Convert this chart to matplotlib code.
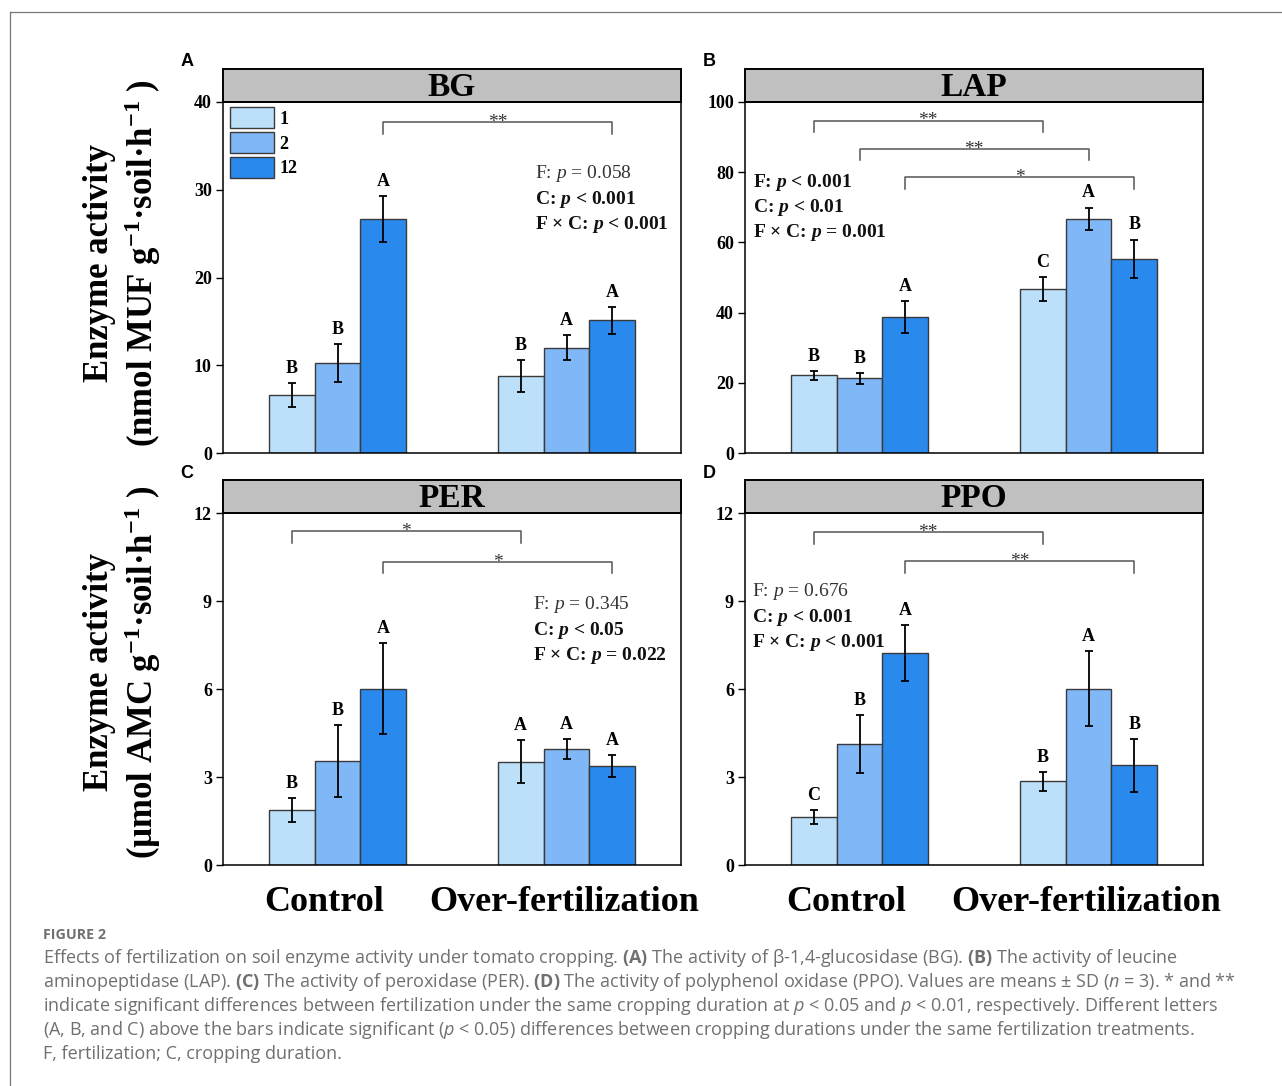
import matplotlib
matplotlib.use("Agg")
import matplotlib.pyplot as plt
from matplotlib.patches import Rectangle
from matplotlib.lines import Line2D

plt.rcParams["font.family"] = "Liberation Serif"
plt.rcParams["mathtext.fontset"] = "custom"
plt.rcParams["mathtext.rm"] = "Liberation Serif"
plt.rcParams["mathtext.it"] = "Liberation Serif:italic"
plt.rcParams["mathtext.bf"] = "Liberation Serif:bold"
plt.rcParams["mathtext.cal"] = "Liberation Serif:italic:bold"
plt.rcParams["mathtext.sf"] = "Open Sans:bold"
plt.rcParams["mathtext.tt"] = "Open Sans:italic"

W, H = 1282, 1086

groups = ["Control", "Over-fertilization"]
durations = ["1", "2", "12"]
colors = ["#BDE0FA", "#80B7F7", "#2A89ED"]

# BG
bg_mean = [[6.6, 10.25, 26.7], [8.8, 12.0, 15.1]]
bg_sd = [[1.4, 2.2, 2.6], [1.8, 1.45, 1.5]]
bg_letters = [["B", "B", "A"], ["B", "A", "A"]]
bg_brackets = [(2, 37.7, "**")]
bg_stats = [("F: $p$ = 0.058", "normal"), ("C: $\\mathcal{p}$ < 0.001", "bold"),
            ("F × C: $\\mathcal{p}$ < 0.001", "bold")]

# LAP
lap_mean = [[22.1, 21.3, 38.7], [46.7, 66.7, 55.3]]
lap_sd = [[1.3, 1.5, 4.6], [3.4, 3.2, 5.5]]
lap_letters = [["B", "B", "A"], ["C", "A", "B"]]
lap_brackets = [(0, 94.7, "**"), (1, 86.7, "**"), (2, 78.5, "*")]
lap_stats = [("F: $\\mathcal{p}$ < 0.001", "bold"), ("C: $\\mathcal{p}$ < 0.01", "bold"),
             ("F × C: $\\mathcal{p}$ = 0.001", "bold")]

# PER
per_mean = [[1.87, 3.55, 6.01], [3.52, 3.95, 3.37]]
per_sd = [[0.42, 1.22, 1.55], [0.74, 0.34, 0.37]]
per_letters = [["B", "B", "A"], ["A", "A", "A"]]
per_brackets = [(0, 11.39, "*"), (2, 10.34, "*")]
per_stats = [("F: $p$ = 0.345", "normal"), ("C: $\\mathcal{p}$ < 0.05", "bold"),
             ("F × C: $\\mathcal{p}$ = 0.022", "bold")]

# PPO
ppo_mean = [[1.63, 4.12, 7.23], [2.85, 6.01, 3.40]]
ppo_sd = [[0.24, 0.99, 0.96], [0.32, 1.27, 0.90]]
ppo_letters = [["C", "B", "A"], ["B", "A", "B"]]
ppo_brackets = [(0, 11.35, "**"), (2, 10.36, "**")]
ppo_stats = [("F: $p$ = 0.676", "normal"), ("C: $\\mathcal{p}$ < 0.001", "bold"),
             ("F × C: $\\mathcal{p}$ < 0.001", "bold")]

panels = [
    ("A", "BG", bg_mean, bg_sd, bg_letters, bg_brackets, bg_stats, 40, [0, 10, 20, 30, 40],
     (223, 102, 681, 453), (0.681, 0.795)),
    ("B", "LAP", lap_mean, lap_sd, lap_letters, lap_brackets, lap_stats, 100, [0, 20, 40, 60, 80, 100],
     (745, 102, 1203, 453), (0.017, 0.772)),
    ("C", "PER", per_mean, per_sd, per_letters, per_brackets, per_stats, 12, [0, 3, 6, 9, 12],
     (223, 513, 681, 865), (0.677, 0.739)),
    ("D", "PPO", ppo_mean, ppo_sd, ppo_letters, ppo_brackets, ppo_stats, 12, [0, 3, 6, 9, 12],
     (745, 513, 1203, 865), (0.015, 0.776)),
]

fig = plt.figure(figsize=(W / 100, H / 100), dpi=100)


def fx(px):
    return px / W


def fy(py):
    return 1 - py / H


for tag, name, mean, sd, letters, brackets, stats, ymax, yticks, box, spos in panels:
    l, t, r, b = box
    ax = fig.add_axes([fx(l), fy(b), fx(r) - fx(l), fy(t) - fy(b)])
    for gi in range(2):
        for di in range(3):
            x = gi * 5 + 1.5 + di
            ax.bar(x, mean[gi][di], width=1.0, color=colors[di], edgecolor="#3a3a3a",
                   linewidth=1.0, label=durations[di] if gi == 0 else None, zorder=2)
            ax.errorbar(x, mean[gi][di], yerr=sd[gi][di], fmt="none", ecolor="black",
                        elinewidth=1.3, capsize=3, capthick=1.3, zorder=3)
            ax.annotate(letters[gi][di], (x, mean[gi][di] + sd[gi][di]), xytext=(0, 4.5),
                        textcoords="offset points", ha="center", va="bottom",
                        fontsize=13, fontweight="bold")
    drop = 0.033 * ymax
    for di, yl, lab in brackets:
        x1, x2 = 1.5 + di, 6.5 + di
        ax.plot([x1, x1, x2, x2], [yl - drop, yl, yl, yl - drop], color="#555555", lw=1.1,
                zorder=1)
        ax.annotate(lab, ((x1 + x2) / 2, yl), xytext=(0, -3.5), textcoords="offset points",
                    ha="center", va="baseline", fontsize=14, color="#333333")
    for k, (s, w) in enumerate(stats):
        ax.text(spos[0], spos[1] - k * 0.0715, s, transform=ax.transAxes, fontsize=14,
                fontweight=w, ha="left", va="center", color="#111111" if w == "bold" else "#333333")

    ax.set_xlim(0, 10)
    ax.set_ylim(0, ymax)
    ax.set_yticks(yticks)
    ax.set_yticklabels([str(v) for v in yticks], fontsize=13, fontweight="bold")
    ax.tick_params(axis="y", direction="out", length=5, width=1.0, pad=3)
    if tag in ("C", "D"):
        ax.set_xticks([2.2, 7.45])
        ax.set_xticklabels(groups, fontsize=26, fontweight="bold")
        ax.tick_params(axis="x", length=0, pad=15)
    else:
        ax.set_xticks([])
    for sp in ax.spines.values():
        sp.set_linewidth(1.1)

    hb = 33 / (b - t)
    ax.add_patch(Rectangle((0, 1), 1, hb, transform=ax.transAxes, clip_on=False,
                           facecolor="#C0C0C0", edgecolor="black", linewidth=1.4))
    ax.text(0.5, 1 + hb / 2 - 0.005, name, transform=ax.transAxes, ha="center", va="center",
            fontsize=24, fontweight="bold")
    fig.text(fx(l - 36), fy(t - 40), tag, family="Liberation Sans", fontsize=13,
             fontweight="bold", ha="center", va="center")

    if tag == "A":
        ax.legend(loc="upper left", bbox_to_anchor=(0.015, 0.985), frameon=False,
                  borderaxespad=0, borderpad=0, handlelength=2.45, handleheight=1.4,
                  labelspacing=0.22, handletextpad=0.3,
                  prop={"family": "Liberation Serif", "weight": "bold", "size": 13})

# y labels
ylab1 = "(nmol MUF g$^{\\mathbf{-1}}$·soil·h$^{\\mathbf{-1}}$ )"
ylab2 = "(µmol AMC g$^{\\mathbf{-1}}$·soil·h$^{\\mathbf{-1}}$ )"
for yc, second in [(263, ylab1), (672, ylab2)]:
    fig.text(fx(100), fy(yc), "Enzyme activity", rotation=90, ha="center", va="center",
             fontsize=25, fontweight="bold")
    fig.text(fx(143), fy(yc), second, rotation=90, ha="center", va="center",
             fontsize=25, fontweight="bold")

# frame
fig.add_artist(Line2D([fx(10), 1], [fy(12), fy(12)], color="#777777", lw=0.9))
fig.add_artist(Line2D([fx(10), fx(10)], [fy(12), 0], color="#777777", lw=0.9))

# caption
caption = [
    "Effects of fertilization on soil enzyme activity under tomato cropping. $\\mathsf{(A)}$ "
    "The activity of β-1,4-glucosidase (BG). $\\mathsf{(B)}$ The activity of leucine",
    "aminopeptidase (LAP). $\\mathsf{(C)}$ The activity of peroxidase (PER). $\\mathsf{(D)}$ "
    "The activity of polyphenol oxidase (PPO). Values are means ± SD ($\\mathtt{n}$ = 3). * and **",
    "indicate significant differences between fertilization under the same cropping duration at "
    "$\\mathtt{p}$ < 0.05 and $\\mathtt{p}$ < 0.01, respectively. Different letters",
    "(A, B, and C) above the bars indicate significant ($\\mathtt{p}$ < 0.05) differences between "
    "cropping durations under the same fertilization treatments.",
    "F, fertilization; C, cropping duration.",
]
fig.text(fx(43), fy(935), "FIGURE 2", family="Open Sans", fontsize=10.3, fontweight="bold",
         color="#707070", ha="left", va="center")
for i, line in enumerate(caption):
    fig.text(fx(43), fy(958 + 24 * i), line, family="Open Sans", fontsize=13.0,
             color="#707070", ha="left", va="center")

fig.savefig("out.png", dpi=100)
